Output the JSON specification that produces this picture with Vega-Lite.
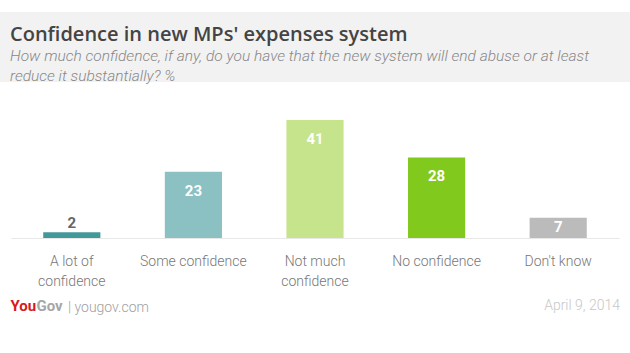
{
  "$schema": "https://vega.github.io/schema/vega-lite/v6.json",
  "padding": {"left": 0, "top": 12, "right": 0, "bottom": 0},
  "background": "white",
  "config": {"view": {"stroke": null}, "font": "Roboto"},
  "title": {"text": "April 9, 2014", "orient": "bottom", "anchor": "end", "color": "#c8c8c8", "fontSize": 14, "fontWeight": 300, "font": "Roboto", "dx": -10, "offset": -5, "baseline": "alphabetic"},
  "spacing": 38,
  "center": true,
  "bounds": "flush",
  "vconcat": [
    {
      "width": 630,
      "height": 70,
      "data": {"values": [{}]},
      "title": {
        "text": "Confidence in new MPs' expenses system",
        "subtitle": ["How much confidence, if any, do you have that the new system will end abuse or at least", "reduce it substantially? %"],
        "orient": "top", "anchor": "start", "frame": "group",
        "offset": -72, "dx": 10,
        "font": "Open Sans", "fontSize": 20, "fontWeight": 600, "color": "#444444",
        "subtitleFont": "Roboto", "subtitleFontSize": 15.5, "subtitleFontStyle": "italic", "subtitleFontWeight": 300,
        "subtitleColor": "#888888", "subtitleLineHeight": 20, "subtitlePadding": 4
      },
      "mark": {"type": "rect", "color": "#f2f2f2"},
      "encoding": {}
    },
    {
      "width": 608,
      "height": 118,
      "data": {"values": [
        {"answer": "A lot of confidence", "pct": 2},
        {"answer": "Some confidence", "pct": 23},
        {"answer": "Not much confidence", "pct": 41},
        {"answer": "No confidence", "pct": 28},
        {"answer": "Don't know", "pct": 7}
      ]},
      "title": {"text": "| yougov.com", "orient": "bottom", "anchor": "start", "frame": "group", "color": "#a0a0a0", "fontSize": 14, "fontWeight": 300, "font": "Roboto", "dx": 57, "offset": -1, "baseline": "alphabetic"},
      "encoding": {
        "x": {
          "field": "answer", "type": "nominal", "sort": null,
          "scale": {"paddingInner": 0.53, "paddingOuter": 0.265},
          "axis": {
            "title": "You", "titleX": -1, "titleY": 72, "titleAlign": "left", "titleBaseline": "alphabetic",
            "titleColor": "#d71920", "titleFont": "Roboto", "titleFontSize": 15, "titleFontWeight": "bold",
            "labelAngle": 0, "labelFont": "Roboto", "labelFontSize": 14, "labelFontWeight": 300, "labelColor": "#777777",
            "labelPadding": 16, "labelLineHeight": 20,
            "labelExpr": "datum.value == 'A lot of confidence' ? ['A lot of', 'confidence'] : datum.value == 'Not much confidence' ? ['Not much', 'confidence'] : datum.value",
            "ticks": false, "domainColor": "#e8e8e8", "grid": false
          }
        },
        "y": {
          "field": "pct", "type": "quantitative",
          "scale": {"domain": [0, 41], "nice": false},
          "axis": {
            "title": "Gov", "titleAngle": 0, "titleX": 25, "titleY": 190, "titleAlign": "left", "titleBaseline": "alphabetic",
            "titleColor": "#a6a6a6", "titleFont": "Roboto", "titleFontSize": 15, "titleFontWeight": "bold",
            "labels": false, "ticks": false, "domain": false, "grid": false
          }
        }
      },
      "layer": [
        {
          "mark": {"type": "bar"},
          "encoding": {
            "color": {"field": "answer", "type": "nominal", "legend": null,
              "scale": {"domain": ["A lot of confidence", "Some confidence", "Not much confidence", "No confidence", "Don't know"],
                        "range": ["#43999a", "#8bc1c2", "#c6e48b", "#82c91e", "#bbbbbb"]}}
          }
        },
        {
          "transform": [{"filter": "datum.pct >= 10"}],
          "mark": {"type": "text", "dy": 24, "baseline": "alphabetic", "color": "white", "fontWeight": "bold", "fontSize": 15, "font": "Roboto"},
          "encoding": {"text": {"field": "pct", "type": "quantitative"}}
        },
        {
          "transform": [{"filter": "datum.pct >= 5 && datum.pct < 10"}],
          "mark": {"type": "text", "dy": 14, "baseline": "alphabetic", "color": "white", "fontWeight": "bold", "fontSize": 15, "font": "Roboto"},
          "encoding": {"text": {"field": "pct", "type": "quantitative"}}
        },
        {
          "transform": [{"filter": "datum.pct < 5"}],
          "mark": {"type": "text", "dy": -4, "baseline": "alphabetic", "color": "#666666", "fontWeight": "bold", "fontSize": 15, "font": "Roboto"},
          "encoding": {"text": {"field": "pct", "type": "quantitative"}}
        }
      ]
    }
  ]
}
